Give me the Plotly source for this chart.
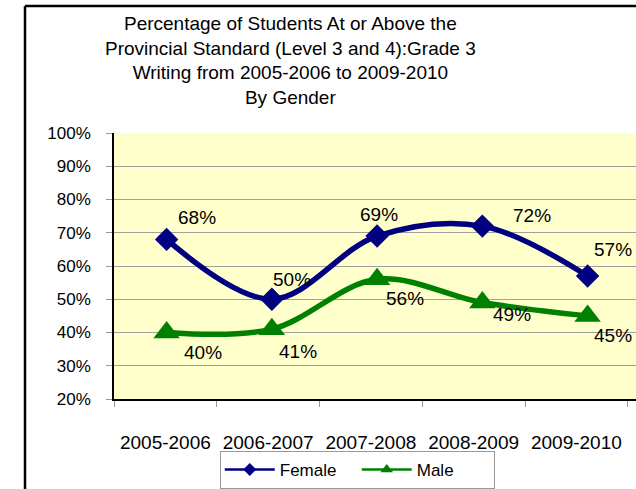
import plotly.graph_objects as go

years = ["2005-2006", "2006-2007", "2007-2008", "2008-2009", "2009-2010"]
female = [68, 50, 69, 72, 57]
male = [40, 41, 56, 49, 45]
ytick_vals = [20, 30, 40, 50, 60, 70, 80, 90, 100]
ytick_text = [f"{v}%" for v in ytick_vals]
title_lines = [
    "Percentage of Students At or Above the",
    "Provincial Standard (Level 3 and 4):Grade 3",
    "Writing from 2005-2006 to 2009-2010",
    "By Gender",
]

# label offsets (px) per point
f_shift = [(30, 22), (20, 20), (2, 22), (50, 11), (25, 26)]
m_shift = [(36, -20), (26, -22), (28, -19), (30, -12), (25, -20)]

FONT = "Arial, Liberation Sans, sans-serif"
NAVY = "#000080"
GREEN = "#008000"

idx = list(range(len(years)))

fig = go.Figure()
# anchor trace for the category-label axis (draws nothing)
fig.add_trace(go.Scatter(
    x=idx, y=[None] * len(idx), xaxis="x", yaxis="y", mode="markers",
    showlegend=False, hoverinfo="skip",
))
series = [("Female", female, NAVY, "diamond", 18, 10),
          ("Male", male, GREEN, "triangle-up", 23, 11)]
for name, vals, col, sym, msize, lsize in series:
    fig.add_trace(go.Scatter(
        x=years, y=vals, name=name, xaxis="x2", legendgroup=name, showlegend=False,
        mode="lines+markers",
        line=dict(color=col, width=5.5, shape="spline", smoothing=1.0),
        marker=dict(symbol=sym, size=msize, color=col),
    ))
for name, vals, col, sym, msize, lsize in series:
    # legend entry (smaller symbol, as in the reference legend)
    fig.add_trace(go.Scatter(
        x=[None], y=[None], name=name, xaxis="x2", legendgroup=name,
        mode="lines+markers",
        line=dict(color=col, width=2.5),
        marker=dict(symbol=sym, size=lsize, color=col),
    ))

annotations = []
for vals, shifts in ((female, f_shift), (male, m_shift)):
    for yr, v, (dx, dy) in zip(years, vals, shifts):
        annotations.append(dict(
            x=yr, y=v, xref="x2", yref="y", text=f"{v}%", showarrow=False,
            xshift=dx, yshift=dy, font=dict(family=FONT, size=19, color="black"),
        ))
annotations.append(dict(
    text="<br>".join(title_lines), xref="paper", yref="paper",
    x=0.339, y=1.274, xanchor="center", yanchor="middle", showarrow=False,
    align="center", font=dict(family=FONT, size=19, color="black"),
))

fig.update_layout(
    width=636, height=489,
    margin=dict(l=114, r=0, t=133, b=90),
    paper_bgcolor="white",
    plot_bgcolor="#FFFFCC",
    font=dict(family=FONT, color="black"),
    xaxis=dict(
        range=[-0.5, 4.58], tickvals=idx, ticktext=years,
        ticks="", showgrid=False,
        minor=dict(ticks="outside", ticklen=6, tickcolor="#999999",
                   tick0=-0.5, dtick=1, showgrid=False),
        showline=True, linecolor="black", linewidth=1.5,
        tickfont=dict(family=FONT, size=19), ticklabelstandoff=25,
        zeroline=False,
    ),
    xaxis2=dict(
        type="category", categoryorder="array", categoryarray=years,
        range=[-0.5, 4.46], overlaying="x", visible=False,
    ),
    yaxis=dict(
        range=[20, 100], tickvals=ytick_vals, ticktext=ytick_text,
        ticks="outside", ticklen=6, tickcolor="#999999",
        showgrid=True, gridcolor="#A0A0A0", gridwidth=1,
        showline=True, linecolor="black", linewidth=1.5,
        tickfont=dict(family=FONT, size=17), ticklabelstandoff=12,
        zeroline=False,
    ),
    legend=dict(
        orientation="h", x=0.466, xanchor="center", y=-0.338, yanchor="bottom",
        bgcolor="white", bordercolor="#999999", borderwidth=1,
        font=dict(family=FONT, size=17), itemwidth=50,
        entrywidth=72, entrywidthmode="pixels",
    ),
    showlegend=True,
    annotations=annotations,
    shapes=[
        dict(type="line", xref="paper", yref="paper", x0=-0.1705, x1=-0.1705, y0=1.477, y1=-0.4,
             line=dict(color="black", width=2.5)),
        dict(type="line", xref="paper", yref="paper", x0=-0.1705, x1=1.05, y0=1.477, y1=1.477,
             line=dict(color="black", width=2.5)),
    ],
)

fig.write_html("out.html")
